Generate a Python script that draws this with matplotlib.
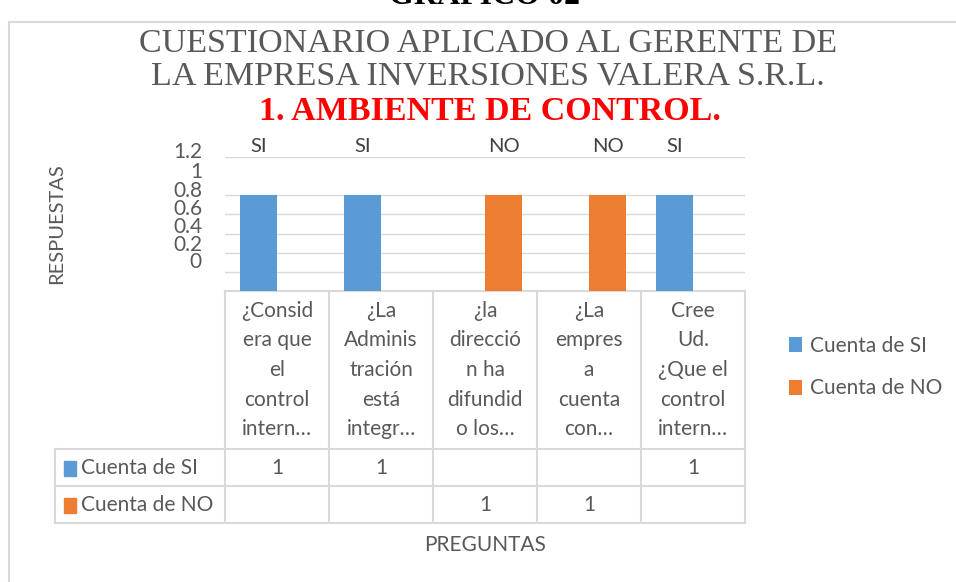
import numpy as np
import matplotlib.pyplot as plt
from matplotlib.patches import Rectangle

# datos del grafico
preguntas = ["¿Consid\nera que\nel\ncontrol\nintern…",
             "¿La\nAdminis\ntración\nestá\nintegr…",
             "¿la\ndirecció\nn ha\ndifundid\no los…",
             "¿La\nempres\na\ncuenta\ncon…",
             "Cree\nUd.\n¿Que el\ncontrol\nintern…"]
cuenta_si = np.array([1, 1, np.nan, np.nan, 1], float)
cuenta_no = np.array([np.nan, np.nan, 1, 1, np.nan], float)
etiquetas = ["SI", "SI", "NO", "NO", "SI"]
series = ["Cuenta de SI", "Cuenta de NO"]
ytick_labels = ["1.2", "1", "0.8", "0.6", "0.4", "0.2", "0"]

AZUL = "#5B9BD5"
NARANJA = "#ED7D31"
GRIS = "#595959"
LINEA = "#D9D9D9"
W, H = 956, 582

plt.rcParams['font.family'] = ['Lato', 'DejaVu Sans']

def fx(px):
    return px / W

def fy(py):
    return 1 - py / H

fig = plt.figure(figsize=(W / 100, H / 100), dpi=100)

# marco del area del grafico
fig.patches.append(Rectangle((fx(9), -0.1), 1.2, fy(22) + 0.1, transform=fig.transFigure,
                             fill=False, edgecolor=LINEA, lw=1.5))

# titulos
fig.text(fx(484), fy(-4), "GRAFICO 02", ha='center', va='center', fontsize=23,
         fontweight='bold', family='Liberation Serif', color='black')
fig.text(fx(488), fy(44), "CUESTIONARIO APLICADO AL GERENTE DE", ha='center', va='center',
         fontsize=24.5, family='Liberation Serif', color=GRIS)
fig.text(fx(488), fy(76), "LA EMPRESA INVERSIONES VALERA S.R.L.", ha='center', va='center',
         fontsize=24.5, family='Liberation Serif', color=GRIS)
fig.text(fx(490), fy(112), "1. AMBIENTE DE CONTROL.", ha='center', va='center',
         fontsize=24.5, fontweight='bold', family='Liberation Serif', color='red')

# eje principal
top, bottom, left, right = 157, 291, 225, 745
ax = fig.add_axes([fx(left), fy(bottom), fx(right - left), (bottom - top) / H])
x = np.arange(len(preguntas))
ancho = 0.36
b1 = ax.bar(x - ancho / 2, cuenta_si, ancho, color=AZUL, label=series[0], zorder=3)
b2 = ax.bar(x + ancho / 2, cuenta_no, ancho, color=NARANJA, label=series[1], zorder=3)
ax.set_xlim(-0.5, len(preguntas) - 0.5)
ax.set_ylim(0, 1.4)
ax.set_yticks([0.2, 0.4, 0.6, 0.8, 1.0, 1.4])
ax.yaxis.grid(True, color=LINEA, lw=1)
ax.tick_params(length=0, labelleft=False, labelbottom=False)
ax.set_xticks([])
for s in ax.spines.values():
    s.set_visible(False)

# etiquetas de datos arriba
for i, lab in enumerate(etiquetas):
    xb = x[i] - ancho / 2 if lab == "SI" else x[i] + ancho / 2
    ax.text(xb, 1.42, lab, ha='center', va='bottom', fontsize=14.5, color='#404040')

# etiquetas del eje y (como aparecen en la imagen)
for lab, py in zip(ytick_labels, [152, 172, 191, 209, 227, 245, 262]):
    fig.text(fx(202), fy(py), lab, ha='right', va='center', fontsize=15, color=GRIS)

fig.text(fx(57), fy(224), "RESPUESTAS", rotation=90, ha='center', va='center',
         fontsize=14.5, color=GRIS)

# tabla de datos bajo el eje
tr = ax.get_xaxis_transform()
def ay(py):
    return (bottom - py) / (bottom - top)

col_w = (right - left) / len(preguntas)
x_izq = -0.5 - (left - 55) / col_w
fila1, fila2, fila3 = 449, 486, 523
kw = dict(transform=tr, color=LINEA, lw=1.5, clip_on=False)
ax.plot([-0.5, len(preguntas) - 0.5], [ay(bottom)] * 2, **kw)
for py in [fila1, fila2, fila3]:
    ax.plot([x_izq, len(preguntas) - 0.5], [ay(py)] * 2, **kw)
for xc in np.arange(len(preguntas) + 1) - 0.5:
    ax.plot([xc, xc], [ay(bottom), ay(fila3)], **kw)
ax.plot([x_izq, x_izq], [ay(fila1), ay(fila3)], **kw)

for i, p in enumerate(preguntas):
    ax.text(x[i], ay(370), p, transform=tr, ha='center', va='center', fontsize=15,
            color=GRIS, linespacing=1.6, clip_on=False)

for vals, nombre, color, py in [(cuenta_si, series[0], AZUL, 468), (cuenta_no, series[1], NARANJA, 505)]:
    fig.patches.append(Rectangle((fx(64), fy(py + 8)), fx(12), 15 / H, transform=fig.transFigure,
                                 color=color))
    fig.text(fx(81), fy(py), nombre, ha='left', va='center', fontsize=15, color=GRIS)
    for i, v in enumerate(vals):
        if not np.isnan(v):
            ax.text(x[i], ay(py), "{:g}".format(v), transform=tr, ha='center', va='center',
                    fontsize=15, color=GRIS, clip_on=False)

fig.text(fx(485), fy(545), "PREGUNTAS", ha='center', va='center', fontsize=15, color=GRIS)

# leyenda
fig.legend(handles=[b1, b2], labels=series, loc='center left',
           bbox_to_anchor=(fx(789), fy(367)), frameon=False, fontsize=15,
           handlelength=0.6, handleheight=0.75, handletextpad=0.4, labelspacing=1.1,
           borderpad=0, borderaxespad=0, labelcolor=GRIS)

fig.savefig("out.png", dpi=100)
